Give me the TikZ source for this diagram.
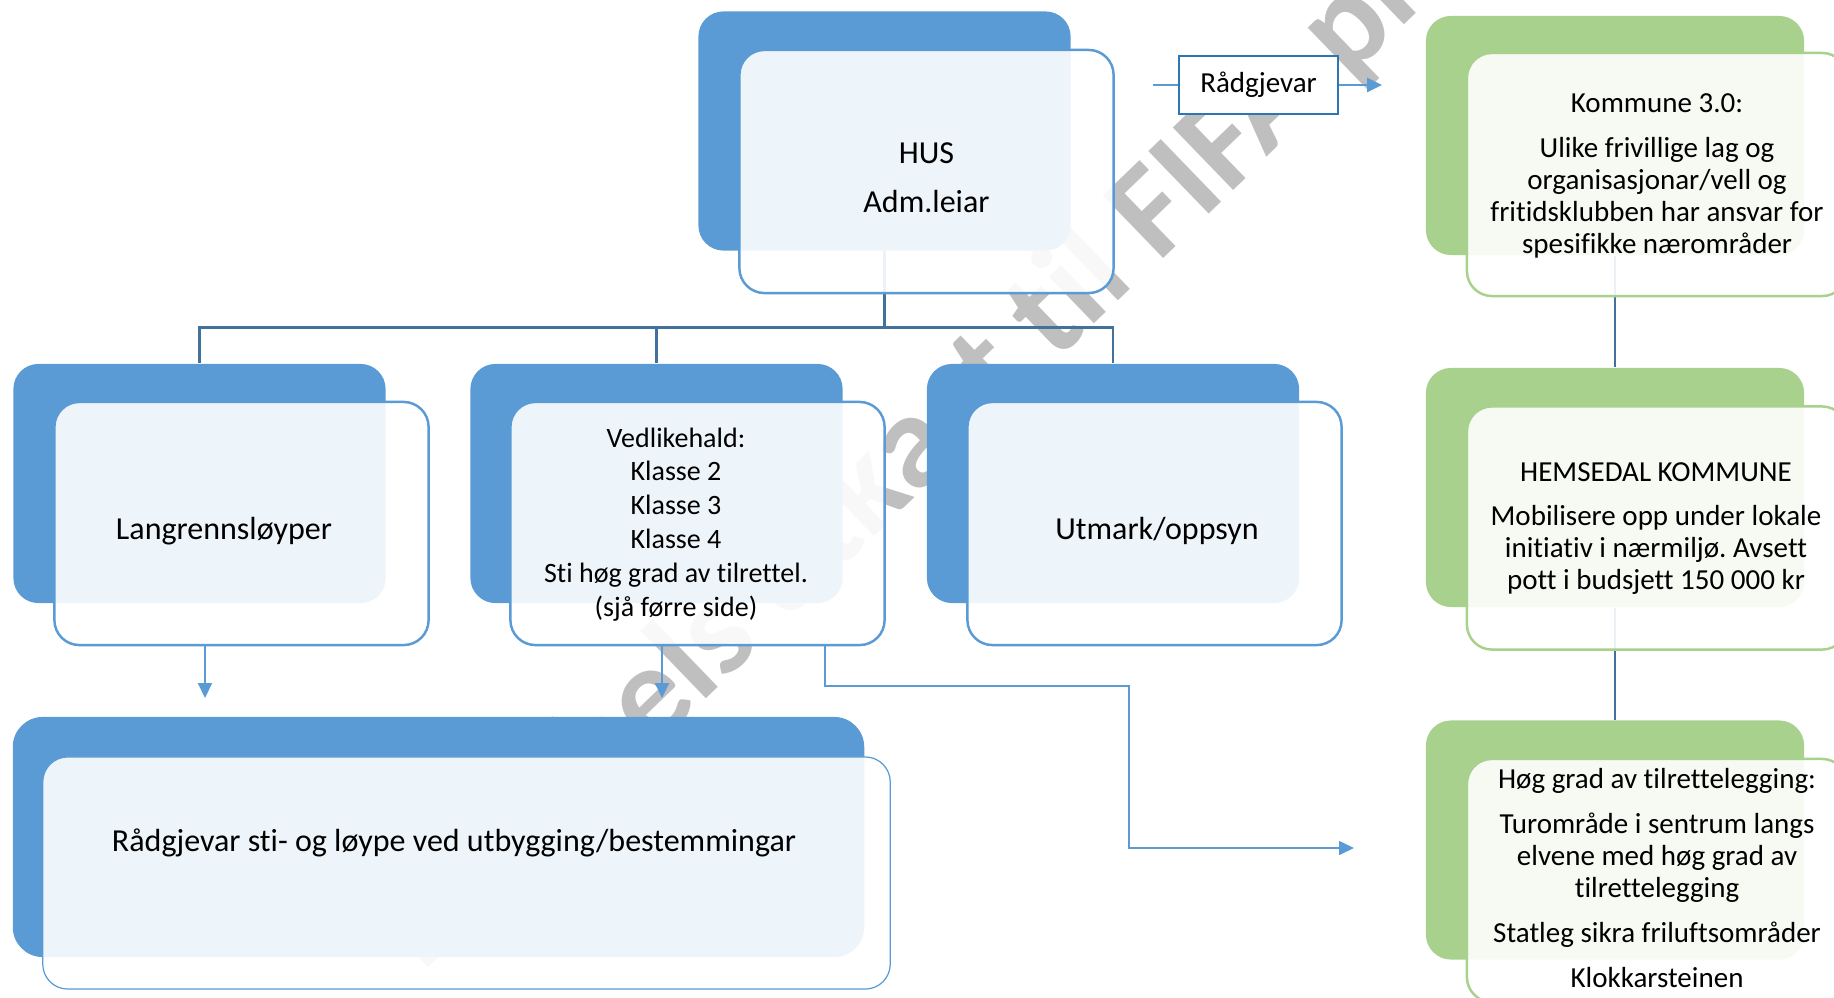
\documentclass[tikz,border=0pt]{standalone}
\usepackage{fontspec}
\setmainfont{Carlito}[Ligatures=NoCommon]
\usetikzlibrary{arrows.meta, positioning, calc}
\frenchspacing

\definecolor{husblue}{HTML}{5B9BD5}
\definecolor{treeblue}{HTML}{41719C}
\definecolor{frameblue}{HTML}{2E75B6}
\definecolor{kgreen}{HTML}{A9D18E}

\begin{document}
\begin{tikzpicture}[x=0.01cm, y=-0.01cm, >={Triangle[length=0.15cm, width=0.14cm]},
    card/.style={rectangle, rounded corners=0.25cm, minimum width=3.72cm, minimum height=2.39cm, fill=husblue, inner sep=0pt},
    cardfront/.style={rectangle, rounded corners=0.25cm, minimum width=3.74cm, minimum height=2.43cm, draw=husblue, line width=0.7pt, fill=white, fill opacity=0.9, inner sep=0pt},
    gcard/.style={card, minimum width=3.78cm, fill=kgreen},
    gcardfront/.style={cardfront, minimum width=3.80cm, draw=kgreen},
    bigtxt/.style={align=center, font=\fontsize{0.32cm}{0.49cm}\selectfont},
    smalltxt/.style={align=center, font=\fontsize{0.28cm}{0.339cm}\selectfont},
    gtxt/.style={align=center, font=\fontsize{0.29cm}{0.32cm}\selectfont},
    wmtext/.style={rotate=44, text=gray!50, font=\bfseries\fontsize{1.34cm}{1.34cm}\selectfont},
    tree/.style={draw=treeblue, line width=0.7pt},
    arr/.style={->, draw=husblue, line width=0.6pt},
    thinarr/.style={->, draw=husblue, line width=0.45pt}
]
\useasboundingbox (0,0) rectangle (1834,997);

% Watermark
\node[wmtext] (wm) at (947,416) {Førebels utkast til FIFA plan};

% Back boxes
\node[card] (hus-b) at (884.5,131) {};
\node[card] (lang-b) at (199.5,483.5) {};
\node[card] (ved-b) at (656.5,483.5) {};
\node[card] (utm-b) at (1113,483.5) {};
\node[card, minimum width=8.51cm, minimum height=2.40cm, rounded corners=0.3cm] (raad-b) at (438.5,837) {};
\node[gcard] (k1-b) at (1615,135.5) {};
\node[gcard] (k2-b) at (1615,487.5) {};
\node[gcard] (k3-b) at (1615,840) {};

% Tree
\coordinate (bar) at ($(hus-b.south)+(0,76)$);
\draw[tree] (hus-b.south) -- (bar);
\draw[tree] (lang-b.north) |- (bar) -| (utm-b.north);
\draw[tree] (ved-b.north) -- (ved-b.north |- bar);
\draw[tree] (k1-b.south) -- (k2-b.north);
\draw[tree] (k2-b.south) -- (k3-b.north);

% Front boxes
\node[cardfront] (hus) at ($(hus-b)+(42,40.5)$) {};
\node[cardfront] (lang) at ($(lang-b)+(42,40)$) {};
\node[cardfront] (ved) at ($(ved-b)+(41,40)$) {};
\node[cardfront] (utm) at ($(utm-b)+(41.5,40)$) {};
\node[cardfront, minimum width=8.47cm, minimum height=2.32cm, line width=0.35pt] (raad) at ($(raad-b)+(28,36)$) {};
\node[gcardfront] (k1) at ($(k1-b)+(42,39)$) {};
\node[gcardfront] (k2) at ($(k2-b)+(42,40.5)$) {};
\node[gcardfront] (k3) at ($(k3-b)+(42,40.5)$) {};

% Texts
\node[bigtxt] (hus-t) at ($(hus)+(0,6)$) {HUS\\Adm.leiar};
\node[bigtxt] (lang-t) at (224,531) {Langrennsløyper};
\node[smalltxt] (ved-t) at (676,524.5) {Vedlikehald:\\Klasse 2\\Klasse 3\\Klasse 4\\Sti høg grad av tilrettel.\\(sjå førre side)};
\node[bigtxt] (utm-t) at (1157,531) {Utmark/oppsyn};
\node[bigtxt] (raad-t) at (454,843) {Rådgjevar sti- og løype ved utbygging/bestemmingar};
\node[gtxt] (k1-t) at (1657,176) {Kommune 3.0:\\[0.13cm]Ulike frivillige lag og\\organisasjonar/vell og\\fritidsklubben har ansvar for\\spesifikke nærområder};
\node[gtxt] (k2-t) at (1656,529) {HEMSEDAL KOMMUNE\\[0.12cm]Mobilisere opp under lokale\\initiativ i nærmiljø. Avsett\\pott i budsjett 150 000 kr};
\node[gtxt] (k3-t) at (1657,878) {Høg grad av tilrettelegging:\\[0.13cm]Turområde i sentrum langs\\elvene med høg grad av\\tilrettelegging\\[0.12cm]Statleg sikra friluftsområder\\[0.13cm]Klokkarsteinen};

% Advisor
\node[draw=frameblue, line width=0.6pt, fill=white, minimum width=1.59cm, minimum height=0.58cm, inner sep=0pt, font=\fontsize{0.29cm}{0.35cm}\selectfont] (radg) at (1258.5,85) {Rådgjevar};
\coordinate (radg-in) at (1153,85);
\coordinate (radg-out) at (1382,85);
\draw[draw=husblue, line width=0.85pt] (radg-in) -- (radg.west);
\draw[arr, line width=0.85pt] (radg.east) -- (radg-out);

% Arrows
\coordinate (pil1) at (205,698);
\coordinate (pil2) at (662,698);
\coordinate (knekk) at (825,686);
\coordinate (pil3) at (1354,848);
\draw[arr] (pil1 |- lang.south) -- (pil1);
\draw[arr] (pil2 |- ved.south) -- (pil2);
\draw[thinarr] (knekk |- ved.south) -- (knekk) -- ++(304,0) |- (pil3);

\end{tikzpicture}
\end{document}
